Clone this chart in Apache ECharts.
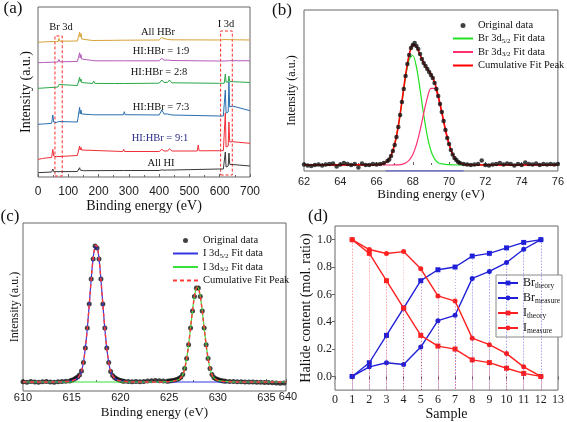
<!DOCTYPE html>
<html><head><meta charset="utf-8">
<script src="https://cdn.jsdelivr.net/npm/echarts@6/dist/echarts.min.js"></script>
<style>html,body{margin:0;padding:0;background:#fff}#c{width:567px;height:422px}</style>
</head><body><div id="c"></div>
<script>
// ---------- Panel (a): survey spectra [binding energy eV, offset intensity] ----------
const aHBr = [[0,134.7],[15,135],[20,136.5],[25,135.2],[60,135.5],[67,135.6],[69.5,138.7],[72,135.8],[130,136],[136,136.5],[137.5,144.7],[139,140],[142,143.5],[144,138],[150,136.5],[180,136.5],[183,138.5],[186,136.6],[252,136.7],[255,138],[258,136.7],[282,136.8],[285,138],[288,136.8],[400,137],[408,139.3],[414,137.5],[428,137.5],[434,139],[442,137.2],[600,137],[618,137.5],[620,138.3],[622,137.2],[630,137.3],[632,138],[634,137.2],[700,137]];
const a19 = [[0,114.3],[18,114.5],[21,116.5],[24,114.7],[66,115],[69.5,117.5],[72,115.2],[130,115.5],[136,116],[137.5,124.3],[139,119],[142,122.5],[144,118],[150,117],[180,116.5],[184,118.5],[188,116.2],[252,116.2],[255,117.5],[258,116.2],[282,116.2],[285,118],[288,116.2],[400,116.2],[409,118.7],[416,116.8],[428,117],[434,118.5],[442,116.5],[527,116.2],[530,117],[533,116.2],[600,116],[617,116],[619.5,117.5],[622,116.3],[629,116.3],[631,117.5],[634,116.2],[700,116.2]];
const a28 = [[0,88.7],[18,89],[21,91],[24,89.5],[66,90],[69.5,92.5],[72,90.5],[130,91.5],[136,92],[137.5,99.7],[139,95.5],[142,98],[144,94.5],[150,93.7],[180,93.5],[184,96],[188,93.6],[252,93.5],[255,94.5],[258,93.5],[282,93.5],[285,95.5],[288,93.6],[400,93.8],[409,97],[416,94.5],[428,94.6],[434,97],[442,94.2],[600,93.7],[615,93.8],[618.5,103],[621,95],[628,95],[630.5,101],[633,95.5],[645,95.3],[700,94.5]];
const a73 = [[0,52.7],[15,53],[20,54.5],[25,53.2],[45,53.7],[49,62],[52,55],[60,54.5],[69,55.5],[72,54.5],[130,55],[136,56],[137.5,69.7],[139,63],[142,67],[144,63],[150,62.7],[180,62.3],[184,64],[188,62.2],[282,62.2],[285,65.3],[288,62.3],[400,62],[409,67],[416,63],[428,63],[434,64.3],[442,62],[600,61],[612,61],[618.5,87],[621,64],[628,65],[630.5,95],[633,70],[642,71],[700,66.3]];
const a91 = [[0,17.7],[15,18.5],[20,20],[25,19],[45,19.5],[49,27.7],[52,21],[60,20.3],[130,21.5],[136,22],[137.5,31],[139,27],[142,29.5],[144,27],[150,26.3],[280,25.5],[283,27.7],[286,25.5],[400,25.5],[409,27.7],[416,26],[428,26],[434,28.3],[442,26],[526,26],[529,32],[532,26.2],[600,26.3],[612,26.3],[618.5,64],[621,30],[628,31],[630.5,55],[633,35],[642,35.3],[700,33.7]];
const aHI = [[0,4.3],[45,5],[49,8],[52,5.3],[130,5.5],[136,6],[137.5,9.3],[139,7],[142,8.5],[144,6.5],[150,6.3],[282,6.5],[285,7.3],[288,6.5],[400,6.5],[409,7.2],[416,6.8],[428,7],[434,7.7],[442,7],[600,8],[612,8],[618.5,25],[621,10],[628,11],[630.5,24],[633,12.7],[700,11]];
const aBrBox = [[56,1],[80,141]];
const aIBox = [[603,2],[641.5,146]];
const aLabels = ['All HBr','HI:HBr = 1:9','HI:HBr = 2:8','HI:HBr = 7:3','HI:HBr = 9:1','All HI'];

// ---------- Panel (b): Br 3d ----------
const bFitX  = [62,66.0,66.2,66.4,66.6,66.8,67.0,67.2,67.4,67.6,67.8,68.0,68.2,68.4,68.6,68.8,69.0,69.2,69.4,69.6,69.8,70.0,70.2,70.4,70.6,70.8,71.0,76];
const bGreen = [0,0.3,0.7,1.6,3.8,9.5,20.7,38.8,62.8,87.7,105.5,109.5,98,75.6,50.3,28.9,14.3,6.1,2.2,1.2,0.6,0.3,0.1,0,0,0,0,0];
const bPink  = [0,0,0,0,0,0,0.05,0.2,0.7,1.9,4.8,10.6,20.4,34.7,51.6,67.2,76.7,76.7,67.2,51.6,34.7,20.4,10.6,4.8,1.9,0.7,0.2,0];
const bCum   = [0,0.3,0.7,1.6,3.8,9.5,20.8,39,63.5,89.6,110.3,120.1,118.4,110.3,101.9,96.1,91,82.8,69.4,52.8,35.3,20.7,10.7,4.8,1.9,0.7,0.2,0];
const bOrig = [[62.0,0.5],[62.2,-0.5],[62.4,-1],[62.6,0],[62.8,0.5],[63.0,-0.5],[63.2,0.5],[63.4,1],[63.6,1.5],[63.8,-1.5],[64.0,0.5],[64.2,2],[64.4,1],[64.6,0],[64.8,1],[65.0,-2.5],[65.2,1.5],[65.4,0],[65.6,0],[65.8,1],[66.0,0.5],[66.2,1],[66.4,2],
 [66.6,4],[66.7,5.5],[66.8,9],[66.9,14],[67.0,20],[67.1,28],[67.2,38],[67.3,50],[67.4,63],[67.5,76],[67.6,89],[67.7,101],[67.8,110],[67.9,117],[68.0,120],[68.1,122],[68.2,119],[68.3,116],[68.4,111],[68.5,106],[68.6,102],[68.7,99],[68.8,96],[68.9,93],[69.0,90],[69.1,87],[69.2,82],[69.3,76],[69.4,69],[69.5,61],[69.6,53],[69.7,44],[69.8,35],[69.9,27],[70.0,21],[70.1,15],[70.2,10.5],[70.3,7],[70.4,5],[70.5,3],[70.6,2],
 [70.8,1],[71.0,0.5],[71.2,0],[71.4,0.5],[71.6,1],[71.8,4.5],[72.0,0],[72.2,-0.5],[72.4,0.5],[72.6,1],[72.8,2],[73.0,0.5],[73.2,1.5],[73.4,1],[73.6,-0.5],[73.8,1],[74.0,0],[74.2,2.5],[74.4,1],[74.6,0.5],[74.8,1.5],[75.0,0],[75.2,1],[75.4,0.5],[75.6,1],[75.8,0.5],[76.0,1]];
const bBlueBase = [[66.5,-6],[70.8,-6]];

// ---------- Panel (c): I 3d ----------
const cFitX = [610,612,614,614.5,615,615.5,615.9,616.1,616.3,616.5,616.7,616.9,617.1,617.3,617.5,617.7,617.9,618.1,618.3,618.5,618.7,618.9,619.1,619.5,620,620.5,621,622,624,625,625.5,626,626.3,626.5,626.7,626.9,627.1,627.3,627.5,627.7,627.9,628.1,628.3,628.5,628.7,628.9,629.1,629.3,629.5,629.9,630.4,631,632,634,637];
const c52 = [0,0,0.2,0.5,1.2,3,8,14.3,26,43,65,90,114,131,137,131,114,90,65,43,26,14.3,8,3,1.2,0.5,0.2,0,0,0,0,0,0,0,0,0,0,0,0,0,0,0,0,0,0,0,0,0,0,0,0,0,0,0,0];
const c32 = [0,0,0,0,0,0,0,0,0,0,0,0,0,0,0,0,0,0,0,0,0,0,0,0,0,0,0,0,0,0.4,1,2.6,5.5,9.9,18,29.9,45.4,62.7,79,90.7,95,90.7,79,62.7,45.4,29.9,18,9.9,5.5,2,0.8,0.3,0,0,0];
const cCum = [0,0,0.2,0.5,1.2,3,8,14.3,26,43,65,90,114,131,137,131,114,90,65,43,26,14.3,8,3,1.2,0.5,0.2,0,0,0.4,1,2.6,5.5,9.9,18,29.9,45.4,62.7,79,90.7,95,90.7,79,62.7,45.4,29.9,18,9.9,5.5,2,0.8,0.3,0,0,0];
const cOrig = [[610,0.3],[610.4,-0.2],[610.8,0.4],[611.2,0],[611.6,-0.3],[612,0.2],[612.4,0.5],[612.8,0],[613.2,-0.2],[613.6,0.3],[614,0.6],[614.4,0.8],
 [614.8,1],[615,1.8],[615.2,2.6],[615.4,3.8],[615.6,5],[615.8,7],[616,11],[616.2,19.5],[616.4,34],[616.6,54],[616.8,78],[617,103],[617.2,123],[617.4,136],[617.6,134],[617.8,123],[618,103],[618.2,78],[618.4,54],[618.6,34],[618.8,19.5],[619,10.5],[619.2,6.5],[619.4,4.5],[619.6,3.2],[619.8,2.2],[620,1.5],[620.2,1],
 [620.4,0.8],[620.8,0.5],[621.2,0.3],[621.6,0.4],[622,0.2],[622.4,0.5],[622.8,0.9],[623.2,1.3],[623.6,1.6],[624,1.2],[624.4,0.9],[624.8,0.8],
 [625,1],[625.2,1.2],[625.4,1.5],[625.6,2],[625.8,2.6],[626,3.4],[626.2,4.8],[626.4,7.5],[626.6,13.5],[626.8,23.5],[627,37.3],[627.2,54],[627.4,71],[627.6,85.6],[627.8,94],[628,94],[628.2,85.6],[628.4,71],[628.6,54],[628.8,37.3],[629,23.5],[629.2,13.5],[629.4,7.5],[629.6,4.5],[629.8,3.2],[630,2.4],[630.2,1.8],[630.4,1.3],[630.6,1],[630.8,0.8],
 [631.2,0.6],[631.6,0.4],[632,0.3],[632.4,0.2],[632.8,0.1],[633.2,0],[633.6,0.1],[634,-0.2],[634.4,-0.3],[634.8,-0.5],[635.2,-0.6],[635.6,-0.8],[636,-1],[636.4,-1.2],[636.8,-1]];

// ---------- Panel (d): halide content ----------
const samples   = [1,2,3,4,5,6,7,8,9,10,11,12];
const brTheory  = [0,0.1,0.3,0.5,0.7,0.78,0.8,0.88,0.9,0.94,0.98,1.0];
const brMeasure = [0,0.07,0.1,0.087,0.215,0.408,0.447,0.717,0.768,0.833,0.93,1.0];
const iTheory   = [1.0,0.9,0.7,0.5,0.3,0.222,0.2,0.121,0.101,0.06,0.022,0];
const iMeasure  = [1.0,0.928,0.899,0.913,0.787,0.589,0.551,0.28,0.232,0.167,0.07,0];
const dYTicks   = [0,0.2,0.4,0.6,0.8,1.0];

// ---------- styles ----------
const SERIF = 'Liberation Serif';
const SANS = 'Liberation Sans';
const FRAME = '#666';
const zip = (xs, ys) => xs.map((x, i) => [x, ys[i]]);

function xAx(gi, o) {
  return Object.assign({
    type: 'value', gridIndex: gi, nameLocation: 'middle',
    nameTextStyle: {fontFamily: SERIF, fontSize: 13, color: '#111'},
    axisLine: {show: false}, splitLine: {show: false},
    axisTick: {show: true, inside: true, length: 3, lineStyle: {color: FRAME}},
    minorTick: {show: true, splitNumber: 2, length: 2, lineStyle: {color: FRAME}},
    axisLabel: {fontFamily: SANS, fontSize: 11, color: '#222', margin: 4}
  }, o);
}
function yAx(gi, o) {
  return Object.assign({
    type: 'value', gridIndex: gi, nameLocation: 'middle',
    nameTextStyle: {fontFamily: SERIF, fontSize: 12, color: '#111'},
    axisLine: {show: false}, splitLine: {show: false},
    axisTick: {show: false}, axisLabel: {show: false}
  }, o);
}
const gridStyle = {show: true, borderColor: FRAME, borderWidth: 1, backgroundColor: 'transparent'};

const legendNames = {
  b_orig: '{t|Original data}',
  b_g: '{t|Br 3d}{s|5/2}{t| Fit data}',
  b_p: '{t|Br 3d}{s|3/2}{t| Fit data}',
  b_c: '{t|Cumulative Fit Peak}',
  c_orig: '{t|Original data}',
  c_5: '{t|I 3d}{s|5/2}{t| Fit data}',
  c_3: '{t|I 3d}{s|3/2}{t| Fit data}',
  c_c: '{t|Cumulative Fit Peak}',
  d_bt: '{t|Br}{s|theory}',
  d_bm: '{t|Br}{s|measure}',
  d_it: '{t|I}{s|theory}',
  d_im: '{t|I}{s|measure}'
};
const richSmall = {t: {fontFamily: SERIF, fontSize: 10.5, color: '#111', lineHeight: 12}, s: {fontFamily: SERIF, fontSize: 7, color: '#111', verticalAlign: 'bottom', lineHeight: 12}};
const richD = {t: {fontFamily: SERIF, fontSize: 12, color: '#111', lineHeight: 14}, s: {fontFamily: SERIF, fontSize: 7.5, color: '#111', verticalAlign: 'bottom', lineHeight: 14}};
const fmt = n => legendNames[n] || n;
const noSym = {opacity: 0};

const aColors = ['#d8a236', '#b45cb8', '#2aa848', '#2a6fb0', '#f03038', '#3a3a3a'];
const aData = [aHBr, a19, a28, a73, a91, aHI];

const series = [];
aData.forEach((d, i) => {
  const s = {type: 'line', name: aLabels[i], xAxisIndex: 0, yAxisIndex: 0, data: d, symbol: 'none',
    lineStyle: {width: 1, color: aColors[i]}, itemStyle: {color: aColors[i]}, z: 3};
  if (i === 0) {
    s.markArea = {silent: true, itemStyle: {color: 'rgba(0,0,0,0)', borderColor: '#ff2a2a', borderWidth: 1, borderType: [3, 2]},
      data: [[{coord: aBrBox[0]}, {coord: aBrBox[1]}], [{coord: aIBox[0]}, {coord: aIBox[1]}]]};
  }
  series.push(s);
});

// (b)
series.push({type: 'line', name: 'b_base', xAxisIndex: 1, yAxisIndex: 1, data: bBlueBase, symbol: 'none', lineStyle: {width: 1, color: '#3a3ae0'}, z: 2});
series.push({type: 'line', name: 'b_g', xAxisIndex: 1, yAxisIndex: 1, data: zip(bFitX, bGreen), smooth: 0.3, symbol: 'none', lineStyle: {width: 1.2, color: '#22e022'}, itemStyle: {color: '#22e022'}, z: 3});
series.push({type: 'line', name: 'b_p', xAxisIndex: 1, yAxisIndex: 1, data: zip(bFitX, bPink), smooth: 0.3, symbol: 'none', lineStyle: {width: 1.2, color: '#ff3070'}, itemStyle: {color: '#ff3070'}, z: 3});
series.push({type: 'line', name: 'b_c', xAxisIndex: 1, yAxisIndex: 1, data: zip(bFitX, bCum), smooth: 0.3, symbol: 'none', lineStyle: {width: 1.6, color: '#ff0000'}, itemStyle: {color: '#ff0000'}, z: 4});
series.push({type: 'scatter', name: 'b_orig', xAxisIndex: 1, yAxisIndex: 1, data: bOrig, symbol: 'circle', symbolSize: 4.5, itemStyle: {color: '#111'}, z: 5});

// (c)
series.push({type: 'scatter', name: 'c_orig', xAxisIndex: 2, yAxisIndex: 2, data: cOrig, symbol: 'circle', symbolSize: 5, itemStyle: {color: '#111'}, z: 2});
series.push({type: 'line', name: 'c_5', xAxisIndex: 2, yAxisIndex: 2, data: zip(cFitX, c52), smooth: 0.3, symbol: 'none', lineStyle: {width: 1.2, color: '#3434e0'}, itemStyle: {color: '#3434e0'}, z: 3});
series.push({type: 'line', name: 'c_3', xAxisIndex: 2, yAxisIndex: 2, data: zip(cFitX, c32), smooth: 0.3, symbol: 'none', lineStyle: {width: 1.2, color: '#3ae03a'}, itemStyle: {color: '#3ae03a'}, z: 4});
series.push({type: 'line', name: 'c_c', xAxisIndex: 2, yAxisIndex: 2, data: zip(cFitX, cCum), smooth: 0.3, symbol: 'none', lineStyle: {width: 1.4, color: '#ff3a3a', type: [4, 3]}, itemStyle: {color: '#ff3a3a'}, z: 5});

// (d)
const D_MIN = -0.1;
function dSeries(name, vals, color, sym) {
  return {type: 'line', name: name, xAxisIndex: 3, yAxisIndex: 3, data: zip(samples, vals), symbol: sym, symbolSize: 5,
    lineStyle: {width: 1.4, color: color}, itemStyle: {color: color}, z: 4,
    markLine: {silent: true, symbol: ['none', 'none'], label: {show: false},
      lineStyle: {type: [1, 2], width: 1, color: color, opacity: 0.32},
      data: samples.map((s, i) => [{coord: [s, vals[i]]}, {coord: [s, D_MIN]}])}};
}
series.push(dSeries('d_bt', brTheory, '#2020d8', 'rect'));
series.push(dSeries('d_bm', brMeasure, '#2020d8', 'circle'));
series.push(dSeries('d_it', iTheory, '#ff2020', 'rect'));
series.push(dSeries('d_im', iMeasure, '#ff2020', 'circle'));

const option = {
  animation: false,
  backgroundColor: '#fff',
  grid: [
    Object.assign({left: 38, top: 7, width: 212, height: 170}, gridStyle),
    Object.assign({left: 304, top: 10, width: 257, height: 161}, gridStyle),
    Object.assign({left: 23, top: 223, width: 263, height: 168}, gridStyle),
    Object.assign({left: 335, top: 226, width: 226, height: 165}, gridStyle)
  ],
  xAxis: [
    xAx(0, {min: 0, max: 700, interval: 100, name: 'Binding energy (eV)', nameGap: 19,
      nameTextStyle: {fontFamily: SERIF, fontSize: 14, color: '#111'},
      axisLabel: {fontFamily: SANS, fontSize: 12, color: '#222', margin: 9}}),
    xAx(1, {min: 62, max: 76, interval: 2, name: 'Binding energy (eV)', nameGap: 15,
      axisLabel: {fontFamily: SANS, fontSize: 11, color: '#222', margin: 5}}),
    xAx(2, {min: 610, max: 637, interval: 5, name: 'Binding energy (eV)', nameGap: 15,
      axisLabel: {fontFamily: SANS, fontSize: 11, color: '#222', margin: 1, showMaxLabel: false}}),
    xAx(3, {min: 0, max: 13, interval: 1, name: 'Sample', nameGap: 13,
      nameTextStyle: {fontFamily: SERIF, fontSize: 14, color: '#111'},
      axisTick: {show: true, inside: false, length: 3, lineStyle: {color: FRAME}},
      minorTick: {show: false},
      axisLabel: {fontFamily: SERIF, fontSize: 12, color: '#222', margin: 4}})
  ],
  yAxis: [
    yAx(0, {min: 0, max: 170, name: 'Intensity (a.u.)', nameGap: 5, nameTextStyle: {fontFamily: SERIF, fontSize: 14, color: '#111'}}),
    yAx(1, {min: -6, max: 155, name: 'Intensity (a.u.)', nameGap: 6}),
    yAx(2, {min: -9, max: 159, name: 'Intensity (a.u.)', nameGap: 2}),
    yAx(3, {min: D_MIN, max: 1.1, name: 'Halide content (mol. ratio)', nameGap: 20,
      nameTextStyle: {fontFamily: SERIF, fontSize: 14, color: '#111'},
      axisTick: {show: true, inside: false, length: 3, customValues: dYTicks, lineStyle: {color: FRAME}},
      axisLabel: {show: true, customValues: dYTicks, fontFamily: SERIF, fontSize: 12, color: '#222', margin: 3,
        formatter: v => v.toFixed(1)}})
  ],
  legend: [
    {data: [{name: 'b_orig'}, {name: 'b_g', itemStyle: noSym}, {name: 'b_p', itemStyle: noSym}, {name: 'b_c', itemStyle: noSym}],
      orient: 'vertical', left: 447, top: 15, itemWidth: 20, itemHeight: 5, itemGap: 2,
      formatter: fmt, textStyle: {fontFamily: SERIF, fontSize: 10.5, color: '#111', rich: richSmall}, selectedMode: false},
    {data: [{name: 'c_orig'}, {name: 'c_5', itemStyle: noSym}, {name: 'c_3', itemStyle: noSym}, {name: 'c_c', itemStyle: noSym}],
      orient: 'vertical', left: 167, top: 230, itemWidth: 25, itemHeight: 5, itemGap: 2,
      formatter: fmt, textStyle: {fontFamily: SERIF, fontSize: 10.5, color: '#111', rich: richSmall}, selectedMode: false},
    {data: ['d_bt', 'd_bm', 'd_it', 'd_im'], orient: 'vertical', left: 496, top: 275, itemWidth: 20, itemHeight: 6, itemGap: 2,
      padding: [2, 2, 2, 1], borderColor: '#888', borderWidth: 1, backgroundColor: '#fff',
      formatter: fmt, textStyle: {fontFamily: SERIF, fontSize: 12, color: '#111', rich: richD}, selectedMode: false}
  ],
  graphic: [
    {type: 'text', x: 13, y: 9, style: {text: '(a)', font: '17px "Liberation Serif"', fill: '#111', align: 'center', verticalAlign: 'middle'}},
    {type: 'text', x: 282, y: 11, style: {text: '(b)', font: '17px "Liberation Serif"', fill: '#111', align: 'center', verticalAlign: 'middle'}},
    {type: 'text', x: 10, y: 217, style: {text: '(c)', font: '17px "Liberation Serif"', fill: '#111', align: 'center', verticalAlign: 'middle'}},
    {type: 'text', x: 318, y: 217, style: {text: '(d)', font: '17px "Liberation Serif"', fill: '#111', align: 'center', verticalAlign: 'middle'}},
    {type: 'text', x: 288, y: 397, style: {text: '640', font: '11px "Liberation Sans"', fill: '#222', align: 'center', verticalAlign: 'middle'}},
    {type: 'text', x: 158, y: 32, style: {text: aLabels[0], font: '10.5px "Liberation Serif"', fill: '#111', align: 'center', verticalAlign: 'middle'}},
    {type: 'text', x: 161, y: 51, style: {text: aLabels[1], font: '10.5px "Liberation Serif"', fill: '#111', align: 'center', verticalAlign: 'middle'}},
    {type: 'text', x: 159, y: 72, style: {text: aLabels[2], font: '10.5px "Liberation Serif"', fill: '#111', align: 'center', verticalAlign: 'middle'}},
    {type: 'text', x: 161, y: 107, style: {text: aLabels[3], font: '10.5px "Liberation Serif"', fill: '#111', align: 'center', verticalAlign: 'middle'}},
    {type: 'text', x: 160, y: 138, style: {text: aLabels[4], font: '10.5px "Liberation Serif"', fill: '#2a2a88', align: 'center', verticalAlign: 'middle'}},
    {type: 'text', x: 161, y: 163, style: {text: aLabels[5], font: '10.5px "Liberation Serif"', fill: '#111', align: 'center', verticalAlign: 'middle'}},
    {type: 'text', x: 61, y: 27, style: {text: 'Br 3d', font: '10.5px "Liberation Serif"', fill: '#111', align: 'center', verticalAlign: 'middle'}},
    {type: 'text', x: 226, y: 24, style: {text: 'I 3d', font: '10.5px "Liberation Serif"', fill: '#111', align: 'center', verticalAlign: 'middle'}}
  ],
  series: series
};
const chart = echarts.init(document.getElementById('c'), null, {renderer: 'canvas'});
chart.setOption(option);
</script></body></html>
